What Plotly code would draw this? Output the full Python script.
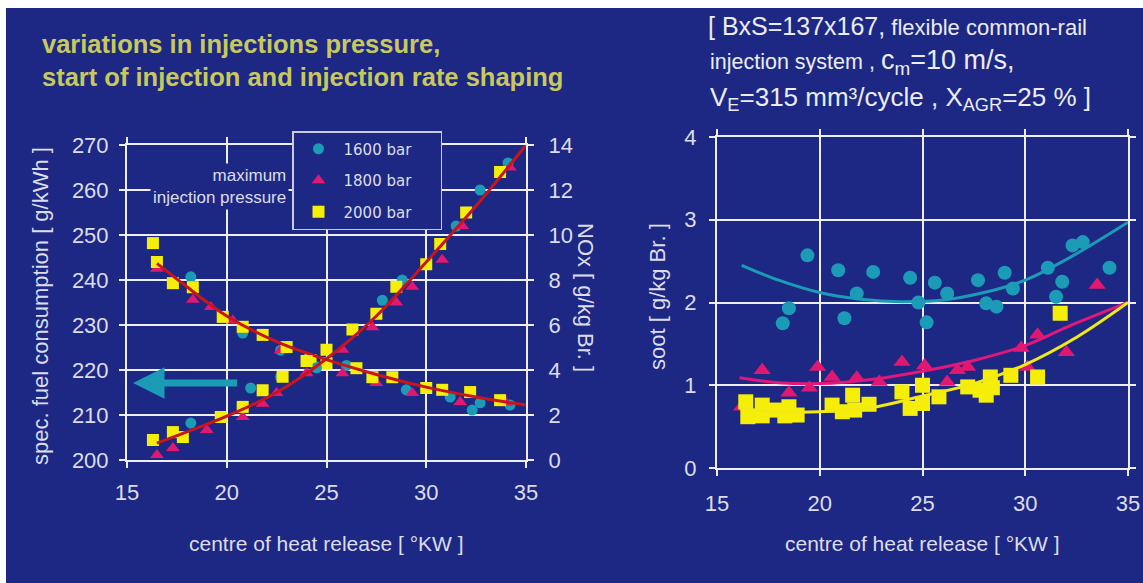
import plotly.graph_objects as go

# ---------------- data ----------------
# left panel: specific fuel consumption (left axis) and NOx (right axis)
fuel_x_1600 = [18.2, 20.8, 22.7, 24.5, 26.0, 29.0, 31.2, 32.3, 32.7, 34.2]
fuel_y_1600 = [240.7, 228.2, 224.4, 220.7, 221.0, 215.6, 214.0, 211.1, 212.7, 212.2]
fuel_x_1800 = [16.5, 18.3, 19.2, 20.3, 22.7, 24.0, 25.8, 27.5, 29.3, 31.7, 34.0]
fuel_y_1800 = [242.5, 235.6, 234.0, 231.0, 224.4, 219.3, 219.3, 217.1, 214.9, 212.9, 212.7]
fuel_x_2000 = [16.3, 16.5, 17.3, 18.3, 19.8, 20.8, 21.8, 23.0, 24.2, 25.0, 26.5, 27.3, 28.3, 30.0, 30.8, 32.2, 33.7]
fuel_y_2000 = [248.2, 244.0, 239.3, 238.4, 231.8, 229.6, 227.8, 225.1, 222.2, 221.5, 220.4, 218.4, 218.4, 216.0, 215.6, 215.1, 213.3]

nox_x_1600 = [18.2, 21.2, 22.7, 24.5, 27.8, 28.8, 31.5, 32.7, 34.1]
nox_y_1600 = [1.64, 3.2, 3.7, 4.1, 7.1, 8.0, 10.4, 12.0, 13.2]
nox_x_1800 = [16.5, 17.3, 19.0, 20.8, 21.8, 22.5, 24.0, 25.8, 27.3, 28.5, 29.3, 30.8, 31.8, 34.2]
nox_y_1800 = [0.22, 0.53, 1.33, 1.91, 2.5, 2.98, 3.87, 4.9, 5.9, 7.0, 7.7, 8.9, 10.4, 13.0]
nox_x_2000 = [16.3, 17.3, 17.8, 19.7, 20.8, 21.8, 22.8, 24.0, 25.0, 26.3, 27.5, 28.5, 30.0, 30.7, 32.0, 33.7]
nox_y_2000 = [0.89, 1.24, 1.02, 1.91, 2.36, 3.1, 3.7, 4.4, 4.9, 5.8, 6.5, 7.7, 8.7, 9.6, 11.0, 12.8]

# trend curves of the left panel
trend_x = [16.5, 18, 20, 22.5, 25, 27.5, 30, 32.5, 35]
fuel_trend = [243.7, 238.5, 232.0, 226.3, 222.3, 219.0, 216.2, 214.0, 212.2]
nox_trend = [0.75, 1.25, 1.95, 3.0, 4.5, 6.4, 8.8, 11.3, 14.0]

# right panel: soot
soot_x_1600 = [19.4, 18.5, 18.2, 20.9, 21.8, 21.2, 22.6, 24.4, 24.8, 25.2, 25.6, 26.2, 27.7, 28.1, 28.6, 29.0, 29.4, 31.1, 31.8, 31.5, 32.3, 32.8, 34.1]
soot_y_1600 = [2.57, 1.93, 1.75, 2.39, 2.11, 1.81, 2.37, 2.30, 2.00, 1.76, 2.24, 2.11, 2.27, 1.99, 1.95, 2.36, 2.17, 2.42, 2.25, 2.07, 2.69, 2.73, 2.42]
soot_x_1800 = [16.2, 17.2, 18.5, 19.5, 19.9, 20.6, 21.8, 22.9, 24.0, 25.1, 26.2, 26.7, 27.2, 29.8, 30.1, 30.6, 32.0, 33.5]
soot_y_1800 = [0.74, 1.18, 0.91, 0.97, 1.22, 1.10, 1.09, 1.04, 1.28, 1.24, 1.04, 1.18, 1.22, 1.45, 1.22, 1.61, 1.40, 2.21]
soot_x_2000 = [16.4, 16.5, 17.2, 17.2, 17.8, 18.5, 18.3, 18.9, 20.6, 21.1, 21.6, 21.7, 22.4, 24.0, 24.4, 25.0, 25.0, 25.8, 27.2, 27.8, 28.1, 28.3, 28.4, 29.3, 30.6, 31.7]
soot_y_2000 = [0.80, 0.62, 0.76, 0.63, 0.70, 0.74, 0.63, 0.64, 0.76, 0.68, 0.88, 0.70, 0.77, 0.92, 0.72, 1.00, 0.78, 0.86, 0.98, 0.94, 0.88, 1.10, 0.97, 1.12, 1.10, 1.87]

soot_trend_x_1600 = [16.2, 18, 20, 22, 24, 26, 28, 30, 32, 35]
soot_trend_y_1600 = [2.45, 2.27, 2.12, 2.04, 2.01, 2.03, 2.12, 2.27, 2.52, 2.97]
soot_trend_x_1800 = [16.1, 18, 20, 22.5, 25, 27.5, 30, 32, 35]
soot_trend_y_1800 = [1.09, 1.03, 1.02, 1.07, 1.17, 1.30, 1.48, 1.70, 2.00]
soot_trend_x_2000 = [16.1, 18, 20, 22.5, 25, 27.5, 30, 32.5, 35]
soot_trend_y_2000 = [0.72, 0.68, 0.68, 0.73, 0.87, 1.02, 1.25, 1.58, 2.00]

x_ticks = [15, 20, 25, 30, 35]
fuel_ticks = [200, 210, 220, 230, 240, 250, 260, 270]
nox_ticks = [0, 2, 4, 6, 8, 10, 12, 14]
soot_ticks = [0, 1, 2, 3, 4]
pressures = ["1600 bar", "1800 bar", "2000 bar"]

# ---------------- style ----------------
W, H = 1143, 583
NAVY = "#1d2885"
GRID = "#eeeef6"
TXT = "#dcdde9"
CYAN = "#1b9bb6"
MAGENTA = "#e0186f"
YELLOW = "#f4ee08"
RED = "#c8151c"
SANS = "Liberation Sans, Arial, sans-serif"


def px(x):
    return x / W


def py(y):
    return 1 - y / H


fig = go.Figure()

styles = [
    (pressures[0], CYAN, "circle", 11),
    (pressures[1], MAGENTA, "triangle-up", 12),
    (pressures[2], YELLOW, "square", 12),
]
fuel_sets = [(fuel_x_1600, fuel_y_1600), (fuel_x_1800, fuel_y_1800), (fuel_x_2000, fuel_y_2000)]
nox_sets = [(nox_x_1600, nox_y_1600), (nox_x_1800, nox_y_1800), (nox_x_2000, nox_y_2000)]
soot_sets = [(soot_x_1600, soot_y_1600), (soot_x_1800, soot_y_1800), (soot_x_2000, soot_y_2000)]
soot_trends = [(soot_trend_x_1600, soot_trend_y_1600), (soot_trend_x_1800, soot_trend_y_1800),
               (soot_trend_x_2000, soot_trend_y_2000)]
soot_colors = [CYAN, "#e0187a", "#f2ea10"]

PAD = "&nbsp;" * 5
for (name, col, sym, size), (fx, fy), (nx, ny) in zip(styles, fuel_sets, nox_sets):
    fig.add_trace(go.Scatter(x=fx, y=fy, mode="markers", name=name + PAD, legendgroup=name,
                             marker=dict(color=col, symbol=sym, size=size, line=dict(width=0)),
                             xaxis="x", yaxis="y"))
    fig.add_trace(go.Scatter(x=nx, y=ny, mode="markers", name=name, legendgroup=name, showlegend=False,
                             marker=dict(color=col, symbol=sym, size=size, line=dict(width=0)),
                             xaxis="x", yaxis="y2"))

fig.add_trace(go.Scatter(x=trend_x, y=fuel_trend, mode="lines", line=dict(color=RED, width=3, shape="spline"),
                         showlegend=False, xaxis="x", yaxis="y"))
fig.add_trace(go.Scatter(x=trend_x, y=nox_trend, mode="lines", line=dict(color=RED, width=3, shape="spline"),
                         showlegend=False, xaxis="x", yaxis="y2"))

for (name, col, sym, size), (sx, sy) in zip(styles, soot_sets):
    fig.add_trace(go.Scatter(x=sx, y=sy, mode="markers", name=name, showlegend=False,
                             marker=dict(color=col, symbol=sym, size=size + 3, line=dict(width=0)),
                             xaxis="x2", yaxis="y3"))
for (tx, ty), col in zip(soot_trends, soot_colors):
    fig.add_trace(go.Scatter(x=tx, y=ty, mode="lines", line=dict(color=col, width=3, shape="spline"),
                             showlegend=False, xaxis="x2", yaxis="y3"))

axis_common = dict(
    showgrid=True, gridcolor=GRID, gridwidth=2,
    showline=True, linecolor=GRID, linewidth=2, mirror="allticks",
    ticks="outside", ticklen=6, tickwidth=2, tickcolor=GRID,
    zeroline=False, automargin=False,
    tickfont=dict(family=SANS, size=22, color=TXT),
)

fig.update_layout(
    width=W, height=H,
    margin=dict(l=0, r=0, t=0, b=0, autoexpand=False),
    paper_bgcolor=NAVY, plot_bgcolor="rgba(0,0,0,0)",
    showlegend=True,
    xaxis=dict(axis_common, domain=[px(127), px(526)], range=[15, 35], tickvals=x_ticks,
               anchor="y", ticklabelstandoff=6),
    yaxis=dict(axis_common, domain=[py(460), py(145)], range=[200, 270], tickvals=fuel_ticks,
               anchor="x", ticklabelstandoff=6),
    yaxis2=dict(axis_common, overlaying="y", side="right", range=[0, 14], tickvals=nox_ticks,
                showgrid=False, anchor="x", ticklabelstandoff=10),
    xaxis2=dict(axis_common, domain=[px(717), px(1128)], range=[15, 35], tickvals=x_ticks,
                anchor="y3", ticklabelstandoff=9),
    yaxis3=dict(axis_common, domain=[py(468), py(137)], range=[0, 4], tickvals=soot_ticks,
                anchor="x2", ticklabelstandoff=8),
    legend=dict(x=px(292), y=py(131), xanchor="left", yanchor="top",
                bgcolor=NAVY, bordercolor="#c9cadb", borderwidth=1.5,
                font=dict(family="DejaVu Sans", size=15, color=TXT),
                tracegroupgap=9, itemwidth=40),
)

# white frame strips along the top and left edges of the slide
fig.add_shape(type="rect", xref="paper", yref="paper", x0=0, x1=1, y0=py(8), y1=1.01,
              fillcolor="white", line=dict(width=0), layer="above")
fig.add_shape(type="rect", xref="paper", yref="paper", x0=-0.01, x1=px(6), y0=-0.01, y1=1.01,
              fillcolor="white", line=dict(width=0), layer="above")

ann = []
# headline
ann.append(dict(xref="paper", yref="paper", x=px(40), y=py(28), xanchor="left", yanchor="top",
                align="left", showarrow=False,
                text="<b>variations in injections pressure,<br>start of injection and injection rate shaping</b>",
                font=dict(family=SANS, size=25.5, color="#c8c85c")))
# test conditions block
ann.append(dict(xref="paper", yref="paper", x=px(706), y=py(26), xanchor="left", yanchor="middle",
                showarrow=False,
                text="<span style='font-size:25px'>[ BxS=137x167,</span> flexible common-rail",
                font=dict(family=SANS, size=22, color="#ececf4")))
ann.append(dict(xref="paper", yref="paper", x=px(708), y=py(62), xanchor="left", yanchor="middle",
                showarrow=False,
                text="injection system , <span style='font-size:27px'>c<sub>m</sub>=10 m/s,</span>",
                font=dict(family=SANS, size=21.5, color="#ececf4")))
ann.append(dict(xref="paper", yref="paper", x=px(708), y=py(99), xanchor="left", yanchor="middle",
                showarrow=False,
                text="V<sub>E</sub>=315 mm³/cycle , X<sub>AGR</sub>=25 % ]",
                font=dict(family=SANS, size=26, color="#ececf4")))
# axis titles
title_font = dict(family=SANS, size=22, color=TXT)
ann.append(dict(xref="paper", yref="paper", x=px(40), y=py(306), xanchor="center", yanchor="middle",
                textangle=-90, showarrow=False,
                text="spec. fuel consumption [ g/kWh ]", font=title_font))
ann.append(dict(xref="paper", yref="paper", x=px(586), y=py(297), xanchor="center", yanchor="middle",
                textangle=90, showarrow=False,
                text="NOx [ g/kg Br. ]", font=title_font))
ann.append(dict(xref="paper", yref="paper", x=px(657), y=py(297), xanchor="center", yanchor="middle",
                textangle=-90, showarrow=False,
                text="soot [ g/kg Br. ]", font=title_font))
ann.append(dict(xref="paper", yref="paper", x=px(326), y=py(543), xanchor="center", yanchor="middle",
                showarrow=False,
                text="centre of heat release [ °KW ]", font=dict(family=SANS, size=21, color=TXT)))
ann.append(dict(xref="paper", yref="paper", x=px(922), y=py(543), xanchor="center", yanchor="middle",
                showarrow=False,
                text="centre of heat release [ °KW ]", font=dict(family=SANS, size=21, color=TXT)))
# in-plot note
ann.append(dict(xref="paper", yref="paper", x=px(289), y=py(187), xanchor="right", yanchor="middle",
                align="right", showarrow=False, bgcolor=NAVY, borderpad=2,
                text="maximum<br>injection pressure", font=dict(family=SANS, size=17, color=TXT)))
# arrow pointing at the fuel consumption axis
ann.append(dict(xref="x", yref="y", x=15.3, y=217.1, axref="x", ayref="y", ax=20.6, ay=217.1,
                text="", showarrow=True, arrowhead=2, arrowsize=0.9, arrowwidth=7, arrowcolor=CYAN))
fig.update_layout(annotations=ann)

fig.write_html("out.html", post_script="document.body.style.margin='0';")
